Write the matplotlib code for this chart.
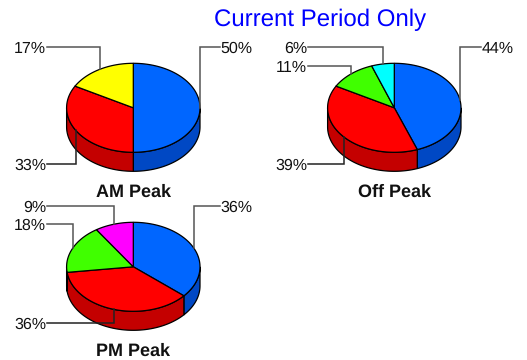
"""three 3D looking pies, current period only"""

import numpy as np
import matplotlib
matplotlib.use("Agg")
import matplotlib.pyplot as plt
from matplotlib.patches import Polygon

plt.rcParams["font.family"] = ["Liberation Sans", "DejaVu Sans"]
plt.rcParams["text.hinting"] = "none"
plt.rcParams["text.hinting_factor"] = 1

# slice shares, clockwise from 12 o'clock
am_values = [50.0, 33.1, 16.9]
off_values = [44.4, 38.7, 11.4, 5.5]
pm_values = [36.3, 36.7, 17.7, 9.3]

am_labels = ["50%", "33%", "17%"]
off_labels = ["44%", "39%", "11%", "6%"]
pm_labels = ["36%", "36%", "18%", "9%"]

BLUE = ("#0066FF", "#0048C4")
RED = ("#FF0000", "#C40000")
YELLOW = ("#FFFF00", "#C4C400")
GREEN = ("#40FF00", "#30C400")
CYAN = ("#00FFFF", "#00C4C4")
MAGENTA = ("#FF00FF", "#C400C4")

# layout, in pixels of the 527x360 figure
RX, RY, DEPTH = 66.7, 44.5, 19
LABEL_GAP = 86.5


def arc(cx, cy, a0, a1):
    t = np.radians(np.linspace(a0, a1, max(int(abs(a1 - a0)), 2) + 1))
    return np.column_stack([cx + RX * np.sin(t), cy - RY * np.cos(t)])


def draw_pie(ax, cx, cy, values, labels, colors, label_ys, title, title_y):
    edges = np.cumsum([0] + values) / sum(values) * 360

    # side wall first, only the front half shows
    for a0, a1, col in zip(edges[:-1], edges[1:], colors):
        s0, s1 = max(a0, 90), min(a1, 270)
        if s1 <= s0:
            continue
        top = arc(cx, cy, s0, s1)
        bottom = arc(cx, cy + DEPTH, s1, s0)
        ax.add_patch(Polygon(np.vstack([top, bottom]), closed=True,
                             facecolor=col[1], edgecolor="black", lw=0.9, zorder=2))

    # top face
    for a0, a1, col in zip(edges[:-1], edges[1:], colors):
        pts = np.vstack([[[cx, cy]], arc(cx, cy, a0, a1)])
        ax.add_patch(Polygon(pts, closed=True, facecolor=col[0],
                             edgecolor="black", lw=0.9, zorder=3))

    # leaders go from the rim at mid slice, up or down, then out to the label
    for a0, a1, lab, ly in zip(edges[:-1], edges[1:], labels, label_ys):
        mid = (a0 + a1) / 2
        x, y = arc(cx, cy, mid, mid + 1)[0]
        right = mid < 180
        front = 90 < mid < 270
        x_end = cx + LABEL_GAP if right else cx - LABEL_GAP
        ax.plot([x, x, x_end], [y, ly, ly], color="#222222" if front else "#555555",
                lw=1.1, zorder=4, solid_joinstyle="miter")
        ax.text(x_end + (0.5 if right else -0.5), ly, lab, fontsize=11.8, color="#111111",
                ha="left" if right else "right", va="center_baseline", zorder=5)

    ax.text(cx, title_y, title, fontsize=13, fontweight="bold", color="#111111",
            ha="center", va="center_baseline")


fig = plt.figure(figsize=(5.27, 3.6), dpi=100, facecolor="white")
ax = fig.add_axes([0, 0, 1, 1])
ax.set_xlim(0, 527)
ax.set_ylim(360, 0)
ax.axis("off")

draw_pie(ax, 133.3, 107.8, am_values, am_labels, [BLUE, RED, YELLOW],
         [47, 164, 47], "AM Peak", 190)
draw_pie(ax, 394.3, 107.8, off_values, off_labels, [BLUE, RED, GREEN, CYAN],
         [47, 164, 66, 47], "Off Peak", 190)
draw_pie(ax, 133.3, 266.8, pm_values, pm_labels, [BLUE, RED, GREEN, MAGENTA],
         [205.7, 323.3, 224.3, 205.7], "PM Peak", 349)

ax.text(320, 17.5, "Current Period Only", fontsize=17, color="#0000FF",
        ha="center", va="center_baseline")

fig.savefig("out.png", dpi=100)
